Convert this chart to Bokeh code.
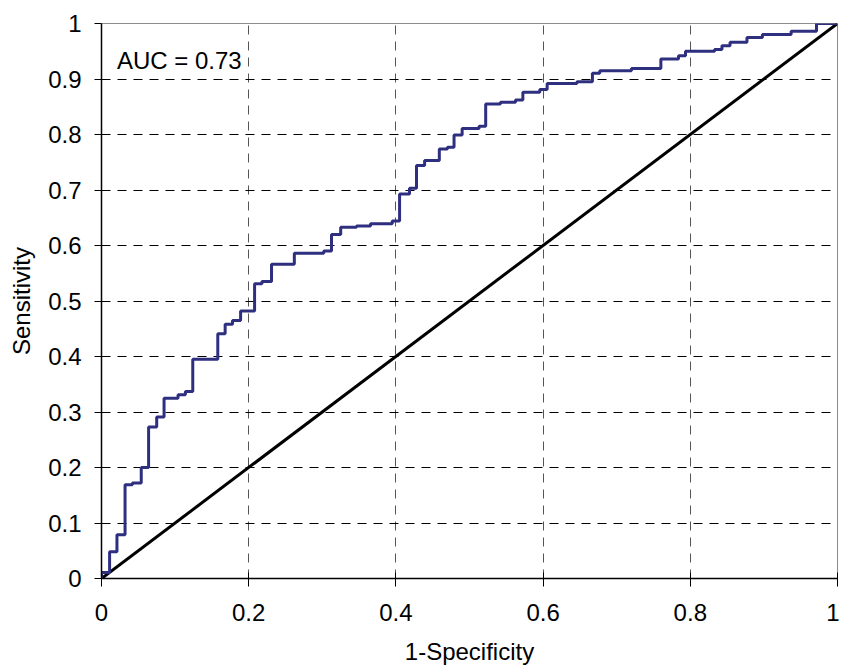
from bokeh.plotting import figure
from bokeh.models import FixedTicker, Label
from bokeh.embed import file_html
from bokeh.resources import INLINE

# ROC curve step points: FPR (1-Specificity) where sensitivity jumps, and new sensitivity
fpr = [0.0, 0.0, 0.011, 0.021, 0.032, 0.042, 0.054, 0.064, 0.075, 0.085,
       0.104, 0.114, 0.124, 0.158, 0.168, 0.178, 0.189, 0.208, 0.218, 0.231,
       0.262, 0.302, 0.3125, 0.325, 0.3465, 0.3655, 0.395, 0.405, 0.4185, 0.428,
       0.439, 0.459, 0.470, 0.479, 0.490, 0.513, 0.522, 0.542, 0.5625, 0.5725,
       0.5955, 0.6055, 0.646, 0.667, 0.677, 0.72, 0.76, 0.784, 0.7935, 0.833,
       0.843, 0.854, 0.877, 0.898, 0.937, 0.9715, 1.0]
tpr = [0.0, 0.011, 0.048, 0.079, 0.169, 0.172, 0.2, 0.273, 0.291, 0.325,
       0.331, 0.337, 0.395, 0.441, 0.458, 0.465, 0.482, 0.531, 0.535, 0.566,
       0.586, 0.590, 0.62, 0.633, 0.635, 0.639, 0.644, 0.693, 0.703, 0.744,
       0.753, 0.774, 0.777, 0.799, 0.811, 0.815, 0.855, 0.858, 0.862, 0.876,
       0.881, 0.892, 0.895, 0.9105, 0.915, 0.919, 0.936, 0.942, 0.95, 0.953,
       0.96, 0.966, 0.975, 0.98, 0.986, 1.0, 1.0]

ref_x = [0.0, 1.0]
ref_y = [0.0, 1.0]

x_ticks = [0, 0.2, 0.4, 0.6, 0.8, 1]
x_labels = ["0", "0.2", "0.4", "0.6", "0.8", "1"]
y_ticks = [0, 0.1, 0.2, 0.3, 0.4, 0.5, 0.6, 0.7, 0.8, 0.9, 1]
y_labels = ["0", "0.1", "0.2", "0.3", "0.4", "0.5", "0.6", "0.7", "0.8", "0.9", "1"]

auc_text = "AUC = 0.73"

FONT = "Liberation Sans"
FS = "24px"

p = figure(width=839, height=669, output_backend="svg", toolbar_location=None,
           x_range=(0, 1), y_range=(0, 1),
           min_border_left=101, min_border_right=2, min_border_top=23, min_border_bottom=91)
p.background_fill_color = "white"
p.border_fill_color = "white"
p.outline_line_color = "#8c8c8c"
p.outline_line_width = 1

p.xaxis.ticker = FixedTicker(ticks=x_ticks)
p.yaxis.ticker = FixedTicker(ticks=y_ticks)
p.xaxis.major_label_overrides = {t: l for t, l in zip(x_ticks, x_labels)}
p.yaxis.major_label_overrides = {t: l for t, l in zip(y_ticks, y_labels)}

for ax in (p.xaxis, p.yaxis):
    ax.axis_line_color = "black"
    ax.axis_line_width = 1.5
    ax.major_tick_line_color = "black"
    ax.major_tick_line_width = 1
    ax.minor_tick_line_color = None
    ax.major_label_text_font = FONT
    ax.major_label_text_font_size = FS
    ax.major_label_text_color = "black"
    ax.axis_label_text_font = FONT
    ax.axis_label_text_font_size = FS
    ax.axis_label_text_font_style = "normal"
    ax.axis_label_text_color = "black"

p.xaxis.major_tick_in = 6
p.xaxis.major_tick_out = 8
p.yaxis.major_tick_in = 0
p.yaxis.major_tick_out = 7
p.xaxis.major_label_standoff = 17
p.yaxis.major_label_standoff = 13
p.xaxis.axis_label = "1-Specificity"
p.yaxis.axis_label = "Sensitivity"
p.xaxis.axis_label_standoff = 14
p.yaxis.axis_label_standoff = 10

p.xgrid.grid_line_color = "#555555"
p.xgrid.grid_line_dash = "9 7"
p.xgrid.grid_line_width = 1
p.ygrid.grid_line_color = "black"
p.ygrid.grid_line_dash = "9 7"
p.ygrid.grid_line_width = 1

p.line(ref_x, ref_y, line_color="black", line_width=3)
p.step(fpr, tpr, mode="after", line_color="#2f2f80", line_width=3)

p.add_layout(Label(x=0.021, y=0.933, text=auc_text, text_font=FONT,
                   text_font_size=FS, text_color="black", text_baseline="alphabetic"))

open("out.html", "w").write(file_html(p, INLINE))
